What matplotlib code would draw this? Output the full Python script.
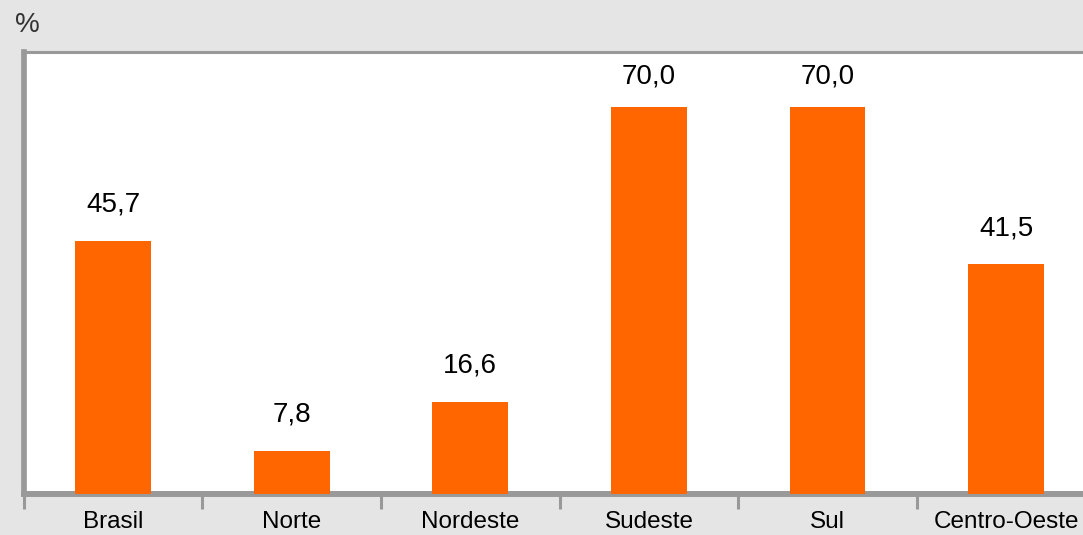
import matplotlib
matplotlib.use("Agg")
import matplotlib.pyplot as plt

regions = ["Brasil", "Norte", "Nordeste", "Sudeste", "Sul", "Centro-Oeste"]
values = [45.7, 7.8, 16.6, 70.0, 70.0, 41.5]

plt.rcParams['font.family'] = ['Liberation Sans', 'DejaVu Sans']

bg = '#e5e5e5'
edge = '#999999'
orange = '#ff6600'

fig = plt.figure(figsize=(10.83, 5.35), dpi=100, facecolor=bg)
ax = fig.add_axes([0.02198, 0.0772, 0.9895, 0.8265])
ax.set_facecolor('white')

x = list(range(len(regions)))
ax.bar(x, values, width=0.425, color=orange, zorder=3)

ax.set_xlim(-0.5, len(regions) - 0.5)
ax.set_ylim(0, 80)

# value labels, comma decimal
for xi, v in zip(x, values):
    ly = min(v + 4.2, 73.1)
    ax.text(xi, ly, f"{v:.1f}".replace('.', ','), ha='center', va='bottom',
            fontsize=20, color='black', zorder=4)

# ticks at category boundaries, labels at centers
ax.set_xticks([i - 0.5 for i in range(len(regions) + 1)])
ax.set_xticklabels([])
ax.tick_params(axis='x', which='major', length=10.8, width=2.2, color=edge,
               direction='out')
ax.set_xticks(x, minor=True)
ax.set_xticklabels(regions, minor=True, fontsize=17.5)
ax.tick_params(axis='x', which='minor', length=0, pad=12.5)
ax.set_yticks([])

for s in ['left', 'top', 'bottom', 'right']:
    ax.spines[s].set_color(edge)
ax.spines['left'].set_linewidth(4.1)
ax.spines['top'].set_linewidth(2.2)
ax.spines['bottom'].set_linewidth(4.3)
ax.spines['right'].set_linewidth(2.2)

fig.text(15 / 1083, 1 - 12 / 535, "%", ha='left', va='top', fontsize=20,
         color='#333333')

fig.savefig("out.png", dpi=100, facecolor=bg)
